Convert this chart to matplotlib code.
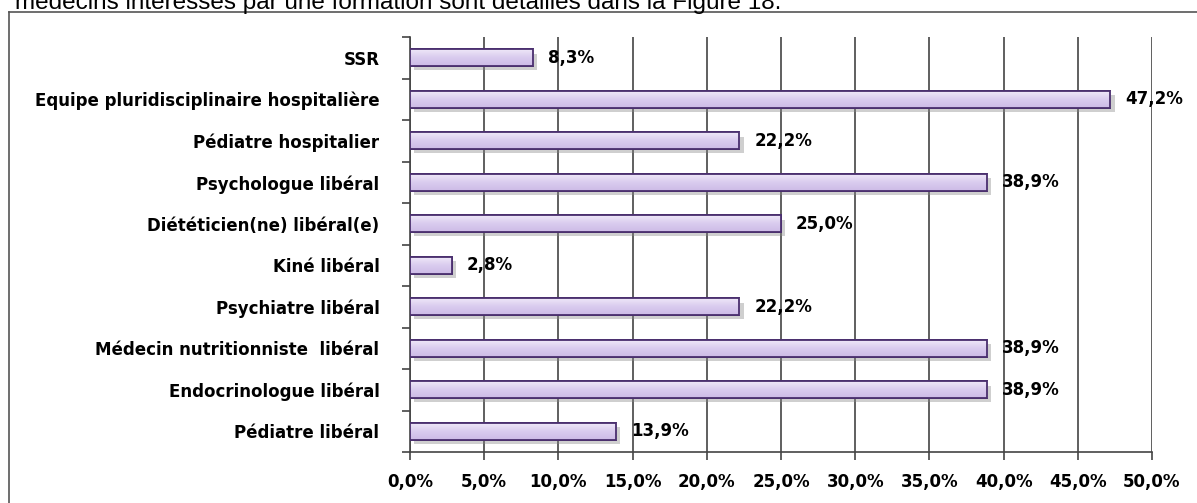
import matplotlib
matplotlib.use("Agg")
import matplotlib.pyplot as plt
import matplotlib.patheffects as pe
from matplotlib.patches import Rectangle
from matplotlib.colors import LinearSegmentedColormap
import numpy as np

categories = ["SSR", "Equipe pluridisciplinaire hospitalière", "Pédiatre hospitalier",
              "Psychologue libéral", "Diététicien(ne) libéral(e)", "Kiné libéral",
              "Psychiatre libéral", "Médecin nutritionniste  libéral",
              "Endocrinologue libéral", "Pédiatre libéral"]
values = [8.3, 47.2, 22.2, 38.9, 25.0, 2.8, 22.2, 38.9, 38.9, 13.9]
xticks = [0, 5, 10, 15, 20, 25, 30, 35, 40, 45, 50]
xtick_labels = ["0,0%", "5,0%", "10,0%", "15,0%", "20,0%", "25,0%", "30,0%",
                "35,0%", "40,0%", "45,0%", "50,0%"]
value_labels = ["8,3%", "47,2%", "22,2%", "38,9%", "25,0%", "2,8%", "22,2%",
                "38,9%", "38,9%", "13,9%"]
caption = "médecins intéressés par une formation sont détaillés dans la Figure 18."

W, H = 1197, 503
fig = plt.figure(figsize=(W / 100, H / 100), dpi=100)
fig.patch.set_facecolor("white")

# outer frame (cut at right/bottom in the reference)
fig.add_artist(plt.Line2D([9 / W, 9 / W], [0, 1 - 12 / H], color="#555555", lw=1.2,
                          transform=fig.transFigure))
fig.add_artist(plt.Line2D([9 / W, 1], [1 - 12 / H, 1 - 12 / H], color="#555555", lw=1.2,
                          transform=fig.transFigure))

# caption text cut at top
fig.text(15 / W, 1 - 9 / H, caption, fontsize=17.5, family="Liberation Sans",
         va="baseline", ha="left", color="black")

ax = fig.add_axes([410 / W, 1 - 452 / H, (1152 - 410) / W, (452 - 37) / H])
n = len(categories)
y = np.arange(n)

bar_h = 0.40
edge = "#4a2f6e"
bars = ax.barh(y, values, height=bar_h, color="#ddd1ef", edgecolor=edge,
               linewidth=1.3, zorder=3)
shadow = [pe.SimplePatchShadow(offset=(3, -3), shadow_rgbFace="#888888", alpha=0.4),
          pe.Normal()]
grad = np.linspace(0, 1, 64).reshape(-1, 1)
cmap = LinearSegmentedColormap.from_list("lav", ["#efe8f8", "#d9cbee", "#cdbbe6"])
for b in bars:
    b.set_path_effects(shadow)
    x0, y0 = b.get_x(), b.get_y()
    w, h = b.get_width(), b.get_height()
    im = ax.imshow(grad, extent=(x0, x0 + w, y0 + h, y0), cmap=cmap, aspect="auto",
                   zorder=3.5, interpolation="bilinear")
    im.set_clip_path(Rectangle((x0, y0), w, h, transform=ax.transData))
    ax.add_patch(Rectangle((x0, y0), w, h, fill=False, edgecolor=edge,
                           linewidth=1.3, zorder=4))
ax.set_xlim(0, 50)
ax.set_ylim(n - 0.5, -0.5)

font = dict(fontsize=12, fontweight="bold", family="DejaVu Sans")
for yi, v, lab in zip(y, values, value_labels):
    ax.text(v + 1.0, yi, lab, va="center", ha="left", zorder=6, **font)

ax.set_xticks(xticks)
ax.set_xticklabels(xtick_labels, **font)
ax.set_yticks(y)
ax.set_yticklabels(categories, **font)
ax.set_yticks(np.arange(n + 1) - 0.5, minor=True)
ax.tick_params(axis="y", which="major", length=0, pad=22)
ax.tick_params(axis="y", which="minor", length=6, width=1.2, color="#444444")
ax.tick_params(axis="x", which="major", length=6, width=1.2, color="#444444", pad=9)

ax.xaxis.grid(True, color="#444444", linewidth=1.2, zorder=0)
ax.set_axisbelow(True)
for s in ["top", "right"]:
    ax.spines[s].set_visible(False)
for s in ["left", "bottom"]:
    ax.spines[s].set_color("#444444")
    ax.spines[s].set_linewidth(1.2)

fig.savefig("out.png", dpi=100, facecolor="white")
